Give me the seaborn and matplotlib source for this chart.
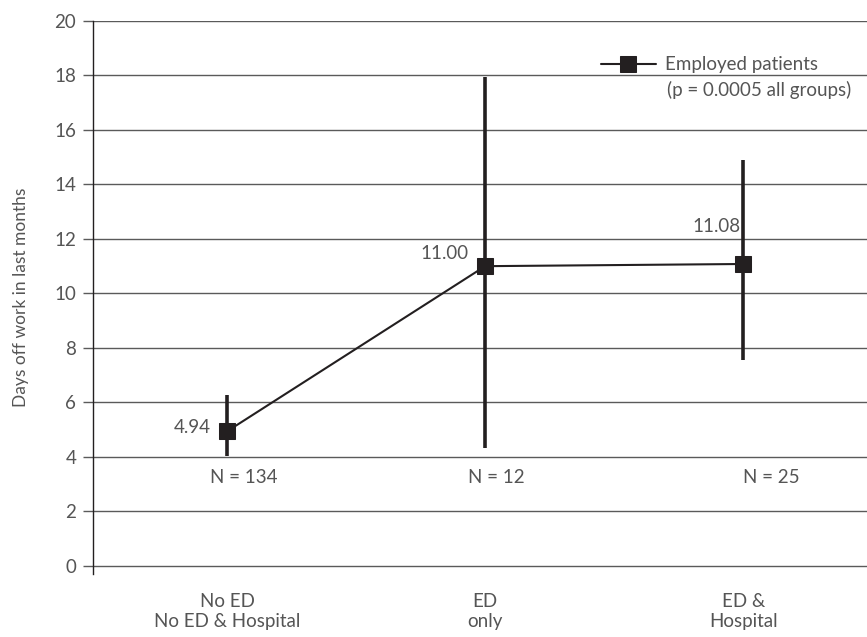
import numpy as np
import pandas as pd
import matplotlib
matplotlib.use('Agg')
import matplotlib.pyplot as plt
import seaborn as sns

# 数据
groups = ['No ED\nNo ED & Hospital', 'ED\nonly', 'ED &\nHospital']
means = [4.94, 11.00, 11.08]
lows = [4.04, 4.31, 7.55]
highs = [6.26, 17.95, 14.90]
n_labels = ['N = 134', 'N = 12', 'N = 25']
value_labels = ['4.94', '11.00', '11.08']
series_label = 'Employed patients'
p_label = '(p = 0.0005 all groups)'

sns.set_theme(style='white')
plt.rcParams['font.family'] = ['Lato', 'DejaVu Sans']
text_col = '#555555'
ink = '#231f20'
fs = 13.5

df = pd.DataFrame({'x': np.arange(len(groups)), 'y': means})

fig = plt.figure(figsize=(8.67, 6.37), dpi=100)
ax = fig.add_axes([93 / 867, 63 / 637, 1 - 93 / 867, (574 - 21) / 637])

# 网格线
for yv in range(0, 21, 2):
    ax.axhline(yv, color='#5a5a5a', lw=1.0, zorder=0)

# 误差线
yerr = [np.array(means) - np.array(lows), np.array(highs) - np.array(means)]
ax.errorbar(df['x'], df['y'], yerr=yerr, fmt='none', ecolor=ink, elinewidth=2.6, capsize=0, zorder=2)

# 折线 + 方形标记
sns.lineplot(data=df, x='x', y='y', ax=ax, color=ink, lw=1.5, marker='s', markersize=11.5,
             markeredgecolor=ink, markerfacecolor=ink, label=series_label, zorder=3)

# 数值标签
offsets = [(-25, 3), (-29, 9), (-19, 27)]
for i, (lab, off) in enumerate(zip(value_labels, offsets)):
    ax.annotate(lab, (df['x'][i], means[i]), xytext=off, textcoords='offset points',
                ha='center', va='center', fontsize=fs, color=text_col)

# N 标签
n_offsets = [12, 8, 20]
for i, (lab, off) in enumerate(zip(n_labels, n_offsets)):
    ax.annotate(lab, (df['x'][i], 3.25), xytext=(off, 0), textcoords='offset points',
                ha='center', va='center', fontsize=fs, color=text_col)

ax.set_xlim(-0.52, 2.48)
ax.set_ylim(-0.3, 20)
ax.set_yticks(range(0, 21, 2))
ax.set_xticks(df['x'])
ax.set_xticklabels(groups, fontsize=fs, color=text_col, linespacing=1.15)
ax.tick_params(axis='x', length=0, pad=14)
ax.tick_params(axis='y', left=True, length=7, width=1, color='#5a5a5a', labelsize=fs,
               labelcolor=text_col, pad=5)
ax.set_xlabel('')
ax.set_ylabel('Days off work in last months', fontsize=12.5, color=text_col, labelpad=18)

for s in ['top', 'right', 'bottom']:
    ax.spines[s].set_visible(False)
ax.spines['left'].set_color(ink)
ax.spines['left'].set_linewidth(1.0)

leg = ax.legend(loc='upper left', bbox_to_anchor=(0.647, 0.950), frameon=False, fontsize=fs,
                handlelength=2.9, handletextpad=0.5, borderaxespad=0)
for t in leg.get_texts():
    t.set_color(text_col)
ax.text(0.742, 0.876, p_label, transform=ax.transAxes, fontsize=fs, color=text_col,
        ha='left', va='center')

fig.savefig('out.png', dpi=100)
